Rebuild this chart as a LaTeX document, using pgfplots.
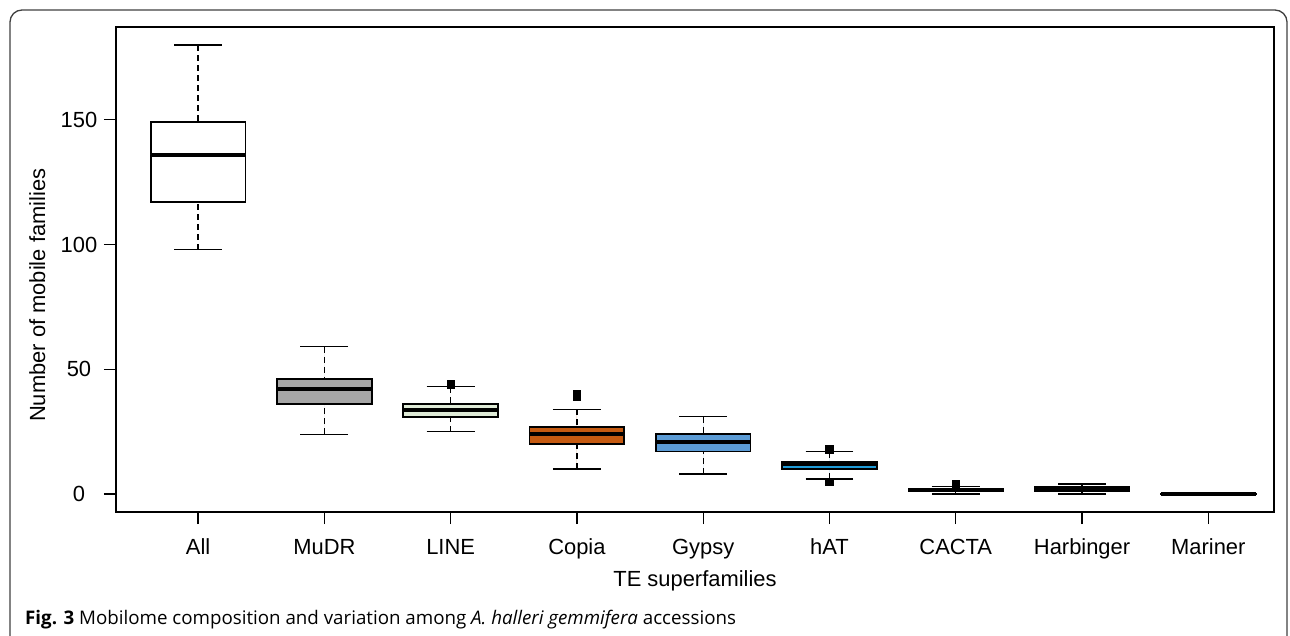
\documentclass[border=0pt]{standalone}
\usepackage{fontspec}
\setmainfont{Liberation Sans}
\newfontfamily\capfont{Open Sans}
\usepackage{pgfplots}
\pgfplotsset{compat=1.18}
\usepgfplotslibrary{statistics}
\definecolor{mudr}{HTML}{A6A6A6}
\definecolor{linec}{HTML}{DFEBD7}
\definecolor{copia}{HTML}{C55A11}
\definecolor{gypsy}{HTML}{5B9BD5}
\definecolor{hatc}{HTML}{1F9BD7}
\pgfplotsset{
  boxplot/draw/lower whisker/.code={%
    \draw[line width=1.3bp, dash pattern=on 6bp off 4bp] (boxplot box cs:\pgfplotsboxplotvalue{lower whisker},0.5) -- (boxplot box cs:\pgfplotsboxplotvalue{lower quartile},0.5);
    \draw[line width=1.3bp, solid] (boxplot whisker cs:\pgfplotsboxplotvalue{lower whisker},0) -- (boxplot whisker cs:\pgfplotsboxplotvalue{lower whisker},1);
  },
  boxplot/draw/upper whisker/.code={%
    \draw[line width=1.3bp, dash pattern=on 6bp off 4bp] (boxplot box cs:\pgfplotsboxplotvalue{upper whisker},0.5) -- (boxplot box cs:\pgfplotsboxplotvalue{upper quartile},0.5);
    \draw[line width=1.3bp, solid] (boxplot whisker cs:\pgfplotsboxplotvalue{upper whisker},0) -- (boxplot whisker cs:\pgfplotsboxplotvalue{upper whisker},1);
  },
  boxplot/every median/.style={line width=4bp},
  bx/.style={draw=black, line width=1.7bp, fill=#1, mark=square*, mark size=3.8bp,
    mark options={solid, fill=black, draw=black, line width=0.5bp}},
}
\begin{document}
\begin{tikzpicture}
\useasboundingbox (0,0) rectangle (1290bp,636bp);
\draw[line width=1.3bp, black!75, rounded corners=12bp] (10bp,-40bp) rectangle (1287bp,626bp);
\begin{axis}[
  at={(116bp,124bp)}, anchor=south west,
  scale only axis, width=1158bp, height=485bp,
  xmin=3.5, xmax=95.2, ymin=-7.2, ymax=187.2,
  xtick={10,20,30,40,50,60,70,80,90},
  xticklabels={All,MuDR,LINE,Copia,Gypsy,hAT,CACTA,Harbinger,Mariner},
  ytick={0,50,100,150},
  xtick pos=bottom, ytick pos=left,
  tick align=outside, major tick length=12bp,
  axis line style={line width=1.4bp},
  tick style={line width=1.3bp, black},
  tick label style={font=\fontsize{22}{26}\selectfont},
  /pgf/number format/assume math mode=true,
  xticklabel style={anchor=base, yshift=-30bp},
  yticklabel style={anchor=center, xshift=-25bp},
  boxplot/draw direction=y,
  boxplot/box extend=7.5,
  boxplot/whisker extend=3.8,
  xlabel={TE superfamilies},
  ylabel={Number of mobile families},
  label style={font=\fontsize{22}{26}\selectfont},
  x label style={at={(axis description cs:0.5,-0.1526)}, anchor=base},
  y label style={at={(axis description cs:-0.0613,0.447)}, anchor=base},
]
\addplot[bx=white, boxplot prepared={draw position=10, lower whisker=98, lower quartile=117, median=136, upper quartile=149, upper whisker=180}] coordinates {};
\addplot[bx=mudr, boxplot prepared={draw position=20, lower whisker=24, lower quartile=36, median=42, upper quartile=46, upper whisker=59}] coordinates {};
\addplot[bx=linec, boxplot prepared={draw position=30, lower whisker=25, lower quartile=31, median=33.5, upper quartile=36, upper whisker=43}] coordinates {(0,44)};
\addplot[bx=copia, boxplot prepared={draw position=40, lower whisker=10, lower quartile=20, median=24, upper quartile=27, upper whisker=34}] coordinates {(0,39) (0,40)};
\addplot[bx=gypsy, boxplot prepared={draw position=50, lower whisker=8, lower quartile=17, median=21, upper quartile=24, upper whisker=31}] coordinates {};
\addplot[bx=hatc, boxplot prepared={draw position=60, lower whisker=6, lower quartile=10, median=12, upper quartile=13, upper whisker=17}] coordinates {(0,5) (0,18)};
\addplot[bx=black, boxplot prepared={draw position=70, lower whisker=0, lower quartile=1, median=1.5, upper quartile=2, upper whisker=3}] coordinates {(0,4)};
\addplot[bx=black, boxplot prepared={draw position=80, lower whisker=0, lower quartile=1, median=2, upper quartile=3, upper whisker=4}] coordinates {};
\addplot[bx=black, boxplot prepared={draw position=90, lower whisker=-0.3, lower quartile=-0.2, median=0, upper quartile=0.2, upper whisker=0.3}] coordinates {};
\end{axis}
\node[anchor=base west, inner sep=0pt, font=\capfont\fontsize{18.8}{22}\selectfont] at (25bp,11.5bp) {\textbf{Fig. 3} Mobilome composition and variation among \textit{A. halleri gemmifera} accessions};
\end{tikzpicture}
\end{document}
